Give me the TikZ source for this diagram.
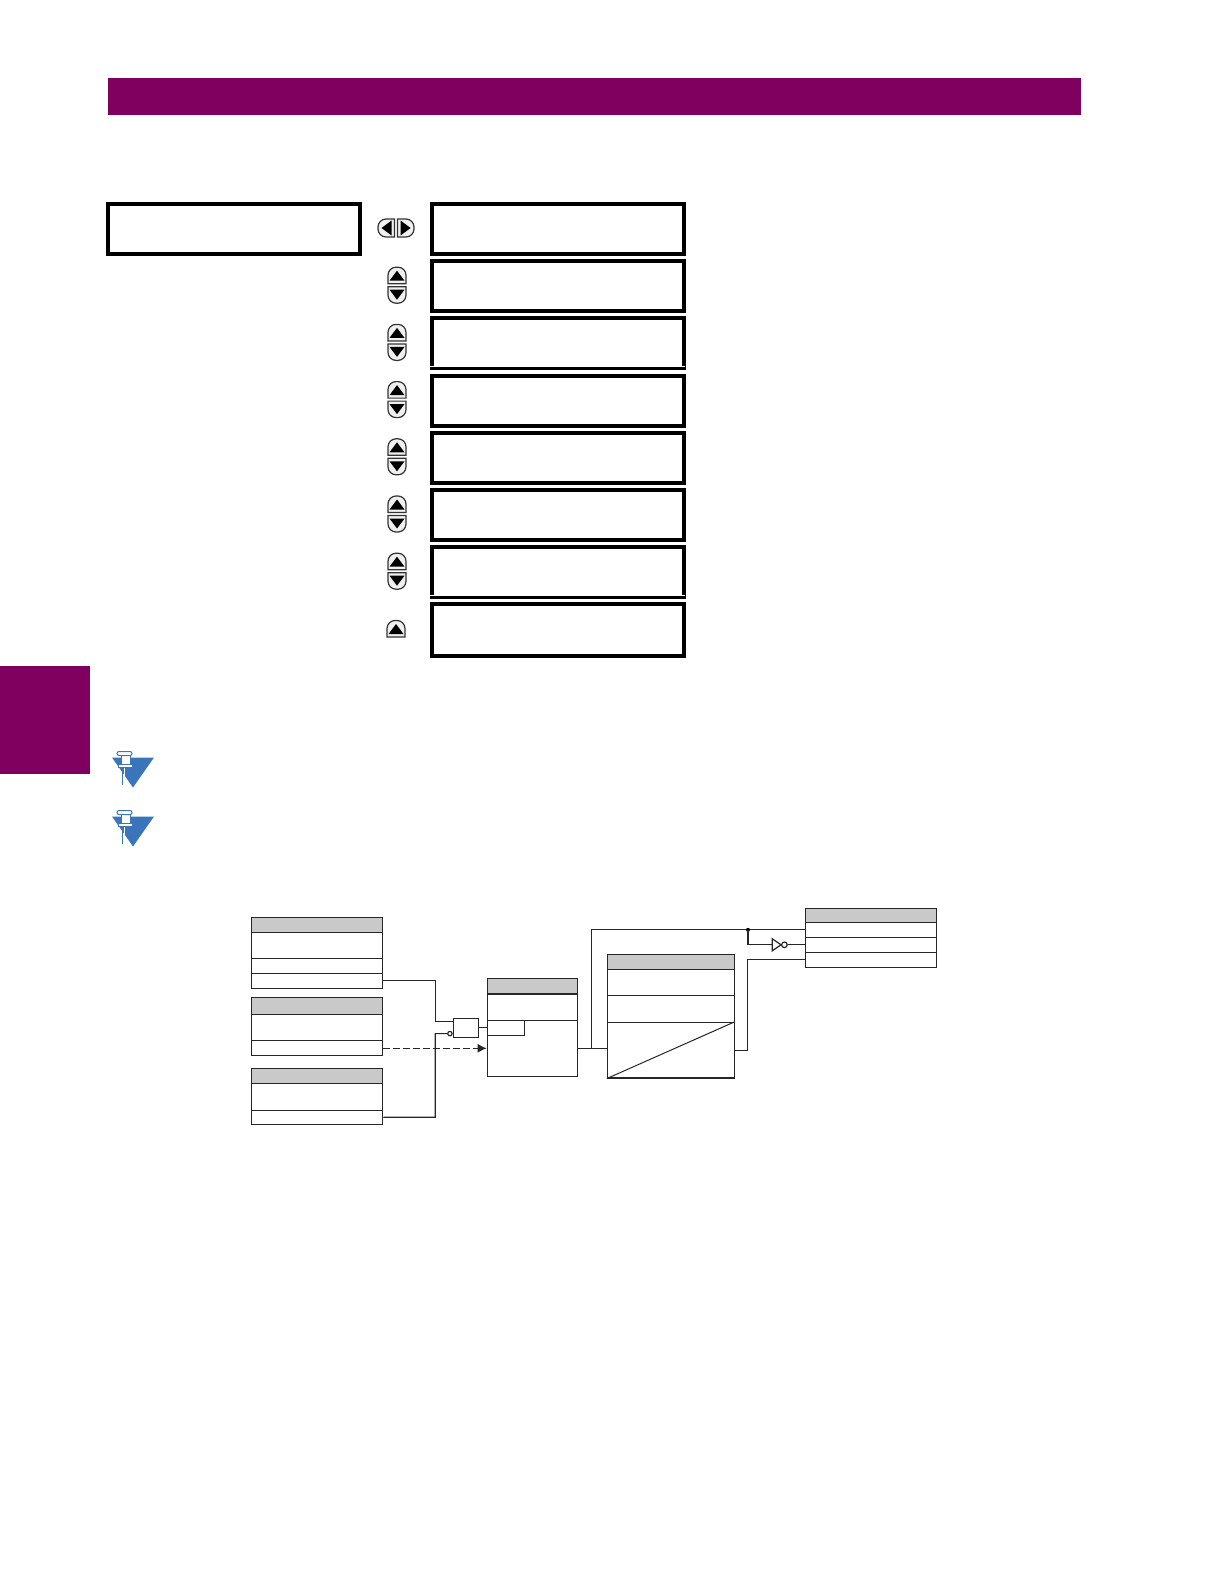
\documentclass[tikz,border=0pt]{standalone}
\usepackage{tikz}
\usetikzlibrary{positioning, arrows.meta, calc, fit}
\definecolor{TitlePurple}{HTML}{7F005F}
\definecolor{NoteBlue}{HTML}{3A75BC}
\definecolor{HeadGray}{HTML}{C8C9C8}
\definecolor{KeyGray}{HTML}{F0F0F0}

\begin{document}
\begin{tikzpicture}[
    x=0.5pt, y=-0.5pt,
    banner/.style={fill=TitlePurple, draw=none, inner sep=0pt},
    display/.style={draw=black, line width=2pt, inner sep=0pt},
    headcell/.style={draw=black!85, line width=0.6pt, fill=HeadGray, inner sep=0pt},
    rowcell/.style={draw=black!85, line width=0.6pt, fill=white, inner sep=0pt},
    conn/.style={draw=black!85, line width=0.6pt},
    flow/.style={conn, dash pattern=on 3.2pt off 1.8pt, -{Latex[length=4.5pt,width=4.5pt]}},
    keycap/.style={draw=black!80, line width=0.6pt, fill=KeyGray},
    keytri/.style={fill=black, draw=none},
    upkey/.pic={
      \draw[keycap] (-9,-1.5) [rounded corners=4pt] -- (-9,-18) -- (9,-18) [sharp corners] -- (9,-1.5) -- cycle;
      \fill[keytri] (0,-14.5) -- (7.5,-4.5) -- (-7.5,-4.5) -- cycle;
    },
    downkey/.pic={
      \draw[keycap] (-9,1.5) [rounded corners=4pt] -- (-9,18) -- (9,18) [sharp corners] -- (9,1.5) -- cycle;
      \fill[keytri] (0,14.5) -- (7.5,4.5) -- (-7.5,4.5) -- cycle;
    },
    leftkey/.pic={
      \draw[keycap] (-1.5,-9) [rounded corners=4pt] -- (-18,-9) -- (-18,9) [sharp corners] -- (-1.5,9) -- cycle;
      \fill[keytri] (-14.5,0) -- (-4.5,-7.5) -- (-4.5,7.5) -- cycle;
    },
    rightkey/.pic={
      \draw[keycap] (1.5,-9) [rounded corners=4pt] -- (18,-9) -- (18,9) [sharp corners] -- (1.5,9) -- cycle;
      \fill[keytri] (14.5,0) -- (4.5,-7.5) -- (4.5,7.5) -- cycle;
    },
    notemark/.pic={
      \fill[NoteBlue] (-21,0) -- (21,0) -- (0,30) -- cycle;
      \draw[white, line width=0.5pt] (-9,10) -- (-9,20);
      \draw[NoteBlue, line width=0.5pt] (-10.5,10) -- (-10.5,27);
      \draw[NoteBlue, line width=0.5pt, fill=white] (-12,-2) rectangle (-3,7);
      \draw[NoteBlue, line width=0.5pt, fill=white, rounded corners=1pt] (-16,-6) rectangle (-1,-2);
      \draw[NoteBlue, line width=0.5pt, fill=white] (-15,7) rectangle (-1,10);
    },
]
  \useasboundingbox (0,0) rectangle (1224,1584);

  % Title bar and side tab
  \node[banner, fit={(108,78) (1081,115)}] (titlebar) {};
  \node[banner, fit={(0,666) (90,774)}] (sidetab) {};

  % Display windows
  \node[display, fit={(108,204) (360,254)}] (menu) {};
  \foreach \i in {0,...,6}{
    \node[display, fit={(432,{204+57.2*\i}) (684,{254+57.2*\i})}] (msg\i) {};
  }
  \node[display, fit={(432,604.4) (684,655.5)}] (msg7) {};
  % white slits under two of the windows
  \foreach \i in {2,6}{
    \draw[white, line width=0.4pt] (msg\i.south west) ++(-3,-4) -- ++(258,0);
  }

  % Keys
  \pic at (396,228) {leftkey};
  \pic at (396,228) {rightkey};
  \foreach \i in {1,...,6}{
    \pic at (397,{228+57.2*\i}) {upkey};
    \pic at (397,{228+57.2*\i}) {downkey};
  }
  \pic at (396,638.5) {upkey};

  % Note marks
  \pic at (133,757.5) {notemark};
  \pic at (133,816.5) {notemark};

  % Settings A
  \node[headcell, fit={(251.3,917.3) (382.7,932.3)}] (ah) {};
  \node[rowcell, fit={(251.3,932.3) (382.7,958.3)}] (a1) {};
  \node[rowcell, fit={(251.3,958.3) (382.7,973.3)}] (a2) {};
  \node[rowcell, fit={(251.3,973.3) (382.7,988.3)}] (a3) {};
  % Settings B
  \node[headcell, fit={(251.3,997.3) (382.7,1014.3)}] (bh) {};
  \node[rowcell, fit={(251.3,1014.3) (382.7,1040.3)}] (b1) {};
  \node[rowcell, fit={(251.3,1040.3) (382.7,1055.3)}] (b2) {};
  % Settings C
  \node[headcell, fit={(251.3,1068.3) (382.7,1083.3)}] (ch) {};
  \node[rowcell, fit={(251.3,1083.3) (382.7,1110.3)}] (c1) {};
  \node[rowcell, fit={(251.3,1110.3) (382.7,1124.3)}] (c2) {};

  % Gate
  \node[rowcell, fit={(453.3,1018.3) (478.7,1037.3)}] (gate) {};
  \node[rowcell, circle, minimum size=2.2pt, left=0pt of gate.west, yshift=-2.9pt] (gatein) {};

  % Logic block
  \node[headcell, fit={(487.3,978.3) (577.3,994)}] (dh) {};
  \draw[line width=1.1pt, black!90] (dh.south west) -- (dh.south east);
  \node[rowcell, fit={(487.3,994.5) (577.3,1020.3)}] (d1) {};
  \node[rowcell, fit={(487.3,1020.3) (577.3,1076.3)}] (d2) {};
  \node[rowcell, fit={(487.3,1020.3) (524.3,1035.3)}] (d3) {};

  % Timer block
  \node[headcell, fit={(607.3,954.3) (734.3,969.3)}] (eh) {};
  \node[rowcell, fit={(607.3,969.3) (734.3,995.3)}] (e1) {};
  \node[rowcell, fit={(607.3,995.3) (734.3,1022.3)}] (e2) {};
  \node[rowcell, fit={(607.3,1022.3) (734.3,1078)}] (e3) {};
  \draw[conn, line width=0.5pt] (e3.south west) -- (e3.north east);

  % Output block
  \node[headcell, fit={(805.3,908.3) (936.3,922.3)}] (fh) {};
  \node[rowcell, fit={(805.3,922.3) (936.3,937.3)}] (f1) {};
  \node[rowcell, fit={(805.3,937.3) (936.3,952.3)}] (f2) {};
  \node[rowcell, fit={(805.3,952.3) (936.3,967.3)}] (f3) {};

  % Inverter
  \coordinate (invl) at (772.3,0 |- f2.west);
  \draw[conn, fill=white] ($(invl)+(0,-6)$) -- ($(invl)+(8.7,0)$) -- ($(invl)+(0,6)$) -- cycle;
  \node[rowcell, circle, minimum size=2.8pt, inner sep=0pt, right=8.7*0.5pt of invl] (invc) {};

  % Connections
  \draw[conn] (a3.east) -| (435.3,1021.3) -- (gate.west |- 0,1021.3);
  \draw[conn] (c2.east) -| (435.3,1033.6) -- (gatein.west);
  \draw[flow] (b2.east |- 0,1048.3) -- (d2.west |- 0,1048.3);
  \draw[conn] (gate.east) -- (d1.south west |- gate.east);
  \coordinate (dout) at (d2.east |- 0,1048.3);
  \draw[conn] (dout) -- (e3.west |- dout);
  \coordinate (fork) at (591.3,1048.3);
  \coordinate (tap) at (748,0 |- f1.west);
  \draw[conn] (fork) |- (f1.west);
  \fill[black] (tap) circle (1pt);
  \draw[conn] (tap) |- (invl);
  \draw[conn] (invc.east) -- (f2.west);
  \draw[conn] (e3.east |- 0,1050.3) -- (747.3,1050.3) |- (f3.west);
\end{tikzpicture}
\end{document}
